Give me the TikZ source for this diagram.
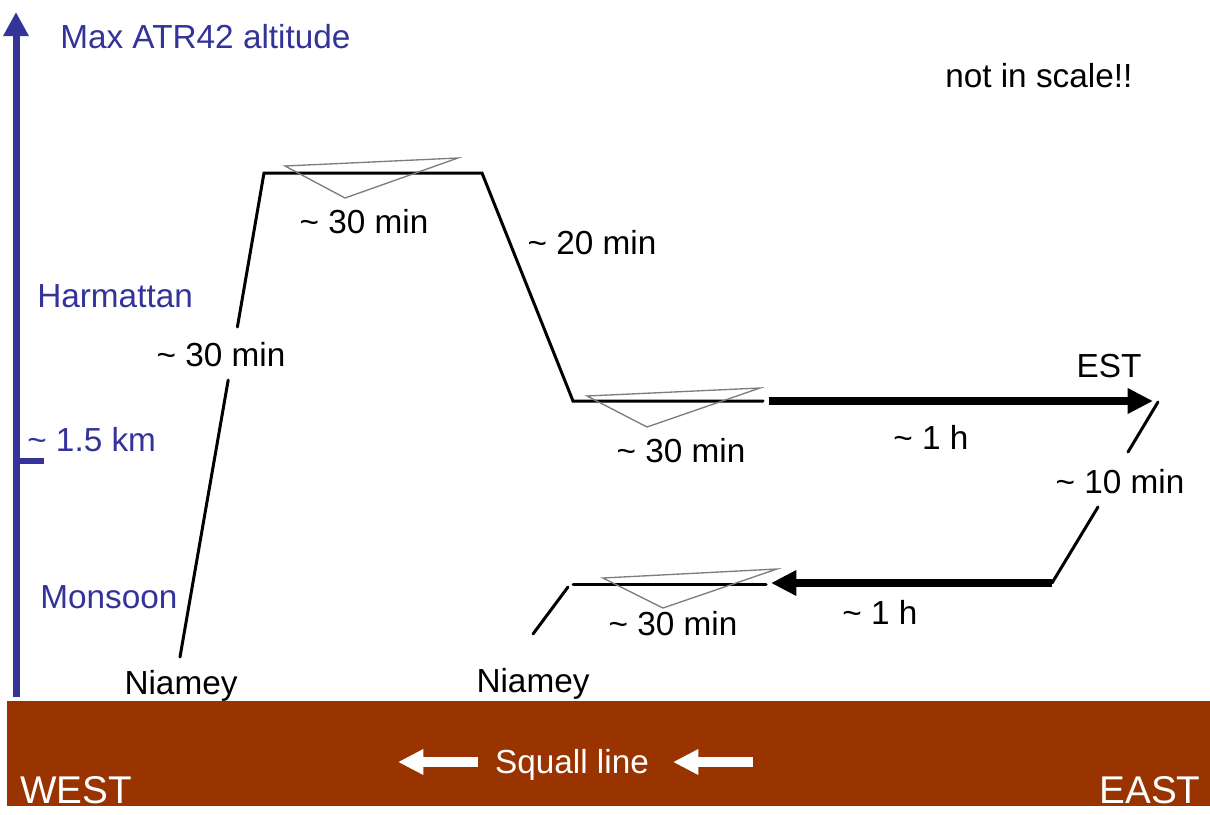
\documentclass[tikz,border=0pt]{standalone}
\usepackage{fontspec}
\setmainfont{Liberation Sans}
\usetikzlibrary{arrows.meta}
\definecolor{axisblue}{RGB}{51,51,153}
\definecolor{groundbrown}{RGB}{153,51,0}
\definecolor{trigray}{RGB}{125,125,125}
\begin{document}
\begin{tikzpicture}[x=0.75pt,y=-0.75pt,
  lab/.style={font=\fontsize{25}{29}\selectfont, inner sep=0pt, anchor=base},
  bluelab/.style={lab, text=axisblue, anchor=base west},
  bigwhite/.style={font=\fontsize{29}{32}\selectfont, inner sep=0pt, anchor=base, text=white},
  flight/.style={line width=2.25pt, line cap=round},
  thickarrow/.style={line width=6.5pt, -{Triangle[length=19pt,width=18pt]}},
  glide/.style={draw=trigray, line width=1pt, line join=miter},
  axisline/.style={draw=axisblue, line width=5.25pt, -{Triangle[length=18pt,width=18pt]}},
  squall/.style={draw=white, line width=7.5pt, -{Triangle[length=19pt,width=18pt]}}
]
\useasboundingbox (0,0) rectangle (1210,814);
\fill[white] (0,0) rectangle (1210,814);
% ground
\fill[groundbrown] (7,701) rectangle (1210,806);

% vertical axis
\coordinate (axbot) at (16,697);
\coordinate (axtop) at (16,12);
\draw[axisline] (axbot) -- (axtop);
\coordinate (tickL) at (16,461);
\coordinate (tickR) at (44,461);
\draw[axisblue, line width=4.5pt] (tickL) -- (tickR);

% axis labels
\node[bluelab] (maxalt) at (60,48) {Max ATR42 altitude};
\node[bluelab] (harm) at (37,307) {Harmattan};
\node[bluelab] (km) at (27,451) {\char"007E{} 1.5 km};
\node[bluelab] (mons) at (40,608) {Monsoon};
\node[lab, anchor=base west] (scale) at (945,87) {not in scale!!};

% flight path coordinates
\coordinate (A) at (180,657);
\coordinate (A1) at (228.2,380);
\coordinate (A2) at (237.4,327);
\coordinate (B) at (264,173);
\coordinate (C) at (482,173);
\coordinate (D) at (573,401);
\coordinate (E) at (763,401);
\coordinate (F) at (769,401);
\coordinate (G) at (1153,401);
\coordinate (H) at (1158,402);
\coordinate (H1) at (1128,452);
\coordinate (I1) at (1098,507);
\coordinate (I) at (1052,583);
\coordinate (J) at (771,583);
\coordinate (K) at (766,584);
\coordinate (L) at (573,584);
\coordinate (M) at (568,587);
\coordinate (N) at (533,634);

\draw[flight] (A) -- (A1);
\draw[flight] (A2) -- (B) -- (C) -- (D) -- (E);
\draw[thickarrow] (F) -- (G);
\draw[flight] (H) -- (H1);
\draw[flight] (I1) -- (I);
\draw[thickarrow] (I) -- (J);
\draw[flight] (K) -- (L);
\draw[flight] (M) -- (N);

% glide triangles
\draw[glide] (285,166) -- (458,158) -- (345,198) -- cycle;
\draw[glide] (587,396) -- (760,388) -- (647,427) -- cycle;
\draw[glide] (603,578) -- (777,569) -- (663,608) -- cycle;

% time labels
\node[lab] (t1) at (364,233) {\char"007E{} 30 min};
\node[lab] (t2) at (592,254) {\char"007E{} 20 min};
\node[lab] (t3) at (221,366) {\char"007E{} 30 min};
\node[lab] (t4) at (681,462) {\char"007E{} 30 min};
\node[lab] (t5) at (931,449) {\char"007E{} 1 h};
\node[lab] (est) at (1109,377) {EST};
\node[lab] (t6) at (1120,493) {\char"007E{} 10 min};
\node[lab] (t7) at (880,624) {\char"007E{} 1 h};
\node[lab] (t8) at (673,635) {\char"007E{} 30 min};
\node[lab] (n1) at (181,694) {Niamey};
\node[lab] (n2) at (533,692) {Niamey};

% ground labels
\node[bigwhite] (west) at (76,803) {WEST};
\node[bigwhite] (east) at (1150,803) {EAST};
\node[lab, text=white] (sq) at (572,773) {Squall line};
\coordinate (s1a) at (478,762);
\coordinate (s1b) at (398,762);
\coordinate (s2a) at (753,762);
\coordinate (s2b) at (673,762);
\draw[squall] (s1a) -- (s1b);
\draw[squall] (s2a) -- (s2b);
\end{tikzpicture}
\end{document}
